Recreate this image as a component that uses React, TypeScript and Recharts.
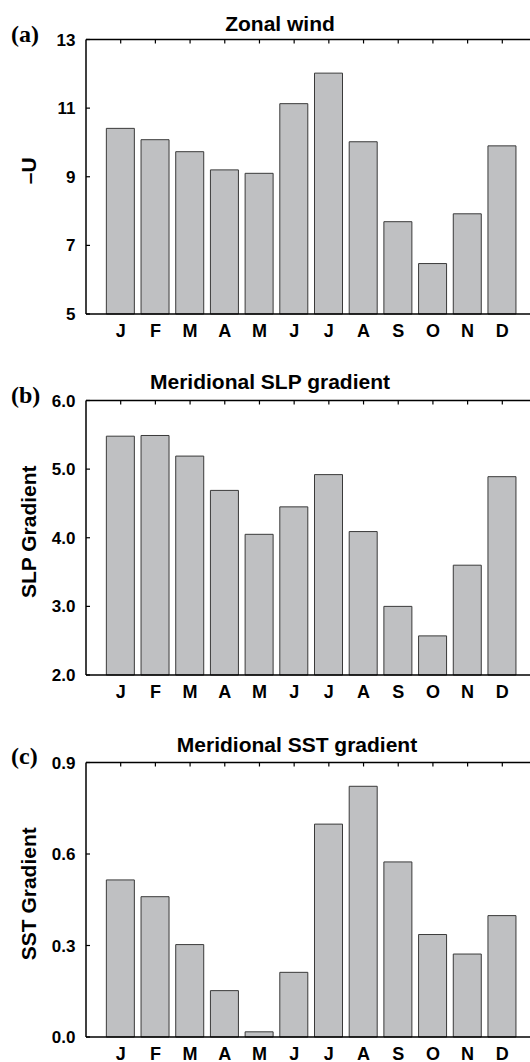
import { Bar, BarChart, ReferenceLine, XAxis, YAxis } from "recharts";

const months = ["J", "F", "M", "A", "M", "J", "J", "A", "S", "O", "N", "D"];
const zonalWind = [10.41, 10.08, 9.73, 9.2, 9.1, 11.13, 12.02, 10.02, 7.69, 6.47, 7.92, 9.9];
const slpGradient = [5.48, 5.49, 5.19, 4.69, 4.05, 4.45, 4.92, 4.09, 3.0, 2.57, 3.6, 4.89];
const sstGradient = [0.515, 0.46, 0.303, 0.152, 0.017, 0.212, 0.698, 0.822, 0.574, 0.336, 0.272, 0.398];
const windTicks = [5, 7, 9, 11, 13];
const slpTicks = [2, 3, 4, 5, 6];
const sstTicks = [0, 0.3, 0.6, 0.9];

const SANS = '"Liberation Sans", Arial, sans-serif';
const SERIF = '"Liberation Serif", "Times New Roman", serif';
const AXIS_X = 86;
const PLOT_TOP = 39.5;
const PLOT_H = 274.5;
const CHART_W = 560;
const CHART_H = 354;

function YTitle({ text }: { text: string }) {
  const cy = PLOT_TOP + PLOT_H / 2 - 6;
  return (
    <text
      transform={`translate(28, ${cy}) rotate(-90)`}
      textAnchor="middle"
      dominantBaseline="central"
      fontFamily={SANS}
      fontWeight="bold"
      fontSize={21}
      fill="#000"
    >
      {text}
    </text>
  );
}

type PanelProps = {
  top: number;
  letter: string;
  title: string;
  titleX: number;
  titleDy: number;
  label: string;
  values: number[];
  ticks: number[];
  digits: number;
};

function Panel({ top, letter, title, titleX, titleDy, label, values, ticks, digits }: PanelProps) {
  const data = months.map((m, i) => ({ i, m, v: values[i] }));
  const lo = ticks[0];
  const hi = ticks[ticks.length - 1];

  const yTick = (p: any) => (
    <g>
      <line x1={AXIS_X} x2={AXIS_X + 4} y1={p.y} y2={p.y} stroke="#000" strokeWidth={1.2} />
      <text x={AXIS_X - 10.5} y={p.y} dy="0.36em" textAnchor="end" fontFamily={SANS} fontWeight="bold" fontSize={17} fill="#000">
        {Number(p.payload.value).toFixed(digits)}
      </text>
    </g>
  );

  const xTick = (p: any) => (
    <g>
      <line x1={p.x} x2={p.x} y1={PLOT_TOP} y2={PLOT_TOP + 4} stroke="#000" strokeWidth={1.2} />
      <text x={p.x} y={p.y + 23} textAnchor="middle" fontFamily={SANS} fontWeight="bold" fontSize={18} fill="#000">
        {months[p.payload.value]}
      </text>
    </g>
  );

  return (
    <div style={{ position: "absolute", left: 0, top, width: CHART_W, height: CHART_H }}>
      <div
        style={{
          position: "absolute",
          left: titleX,
          top: PLOT_TOP + titleDy - 17.8,
          transform: "translateX(-50%)",
          whiteSpace: "nowrap",
          fontFamily: SANS,
          fontWeight: "bold",
          fontSize: 21,
          lineHeight: 1,
          color: "#000",
        }}
      >
        {title}
      </div>
      <div
        style={{
          position: "absolute",
          left: 11,
          top: PLOT_TOP + 3 - 21,
          fontFamily: SERIF,
          fontWeight: "bold",
          fontSize: 24,
          lineHeight: 1,
          color: "#000",
        }}
      >
        {letter}
      </div>
      <BarChart
        width={CHART_W}
        height={CHART_H}
        data={data}
        margin={{ top: PLOT_TOP, right: 23, bottom: 0, left: 0 }}
        style={{ position: "absolute", left: 0, top: 0 }}
      >
        <XAxis
          dataKey="i"
          type="category"
          height={40}
          padding={{ left: 17.35, right: 17.35 }}
          axisLine={{ stroke: "#000", strokeWidth: 1.5 }}
          tickLine={false}
          tickSize={0}
          tickMargin={0}
          interval={0}
          tick={xTick}
        />
        <YAxis
          type="number"
          domain={[lo, hi]}
          ticks={ticks}
          interval={0}
          width={AXIS_X}
          axisLine={{ stroke: "#000", strokeWidth: 1.5 }}
          tickLine={false}
          tick={yTick}
          label={<YTitle text={label} />}
        />
        <ReferenceLine y={hi} stroke="#000" strokeWidth={1.5} />
        <Bar dataKey="v" fill="#bfc0c2" stroke="#3a3a3a" strokeWidth={1} barSize={28} isAnimationActive={false} />
      </BarChart>
    </div>
  );
}

export default function App() {
  return (
    <div style={{ position: "absolute", left: 0, top: 0, width: 530, height: 1062, overflow: "hidden", background: "#fff" }}>
      <Panel top={0} letter="(a)" title="Zonal wind" titleX={280} titleDy={-8.5} label="–U" values={zonalWind} ticks={windTicks} digits={0} />
      <Panel top={361} letter="(b)" title="Meridional SLP gradient" titleX={270} titleDy={-11.5} label="SLP Gradient" values={slpGradient} ticks={slpTicks} digits={1} />
      <Panel top={722.5} letter="(c)" title="Meridional SST gradient" titleX={297} titleDy={-10} label="SST Gradient" values={sstGradient} ticks={sstTicks} digits={1} />
    </div>
  );
}
